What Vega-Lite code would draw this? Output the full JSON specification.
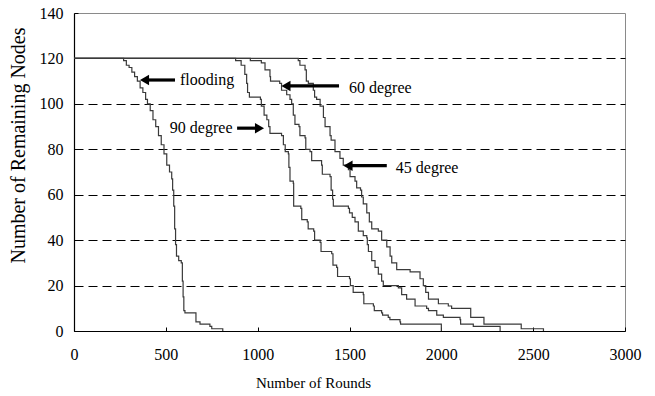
{
  "$schema": "https://vega.github.io/schema/vega-lite/v6.json",
  "width": 551,
  "height": 318,
  "autosize": {"type": "none"},
  "padding": {"left": 74, "top": 13, "right": 30, "bottom": 65},
  "background": "white",
  "config": {
    "view": {"stroke": "#8a8a8a", "strokeWidth": 1},
    "font": "Liberation Serif"
  },
  "layer": [
    {
      "data": {"values": [
        {"s":"flooding","x":0,"y":120},{"s":"flooding","x":255,"y":120},{"s":"flooding","x":270,"y":119},{"s":"flooding","x":285,"y":117},{"s":"flooding","x":300,"y":116},{"s":"flooding","x":315,"y":114},{"s":"flooding","x":330,"y":112},{"s":"flooding","x":345,"y":110},{"s":"flooding","x":360,"y":107},{"s":"flooding","x":375,"y":105},{"s":"flooding","x":390,"y":102},{"s":"flooding","x":400,"y":100},{"s":"flooding","x":415,"y":97},{"s":"flooding","x":430,"y":93},{"s":"flooding","x":445,"y":90},{"s":"flooding","x":460,"y":86},{"s":"flooding","x":475,"y":82},{"s":"flooding","x":490,"y":78},{"s":"flooding","x":505,"y":73},{"s":"flooding","x":520,"y":70},{"s":"flooding","x":532,"y":67},{"s":"flooding","x":537,"y":62},{"s":"flooding","x":543,"y":55},{"s":"flooding","x":548,"y":45},{"s":"flooding","x":553,"y":38},{"s":"flooding","x":558,"y":33},{"s":"flooding","x":570,"y":31},{"s":"flooding","x":584,"y":30},{"s":"flooding","x":590,"y":22},{"s":"flooding","x":594,"y":15},{"s":"flooding","x":598,"y":9},{"s":"flooding","x":604,"y":8},{"s":"flooding","x":660,"y":8},{"s":"flooding","x":664,"y":4},{"s":"flooding","x":686,"y":3},{"s":"flooding","x":740,"y":2},{"s":"flooding","x":750,"y":1},{"s":"flooding","x":810,"y":0},
        {"s":"90","x":0,"y":120},{"s":"90","x":850,"y":120},{"s":"90","x":880,"y":119},{"s":"90","x":910,"y":117},{"s":"90","x":930,"y":113},{"s":"90","x":940,"y":109},{"s":"90","x":945,"y":105},{"s":"90","x":955,"y":103},{"s":"90","x":1015,"y":102},{"s":"90","x":1020,"y":99},{"s":"90","x":1035,"y":95},{"s":"90","x":1050,"y":93},{"s":"90","x":1060,"y":90},{"s":"90","x":1067,"y":87},{"s":"90","x":1130,"y":86},{"s":"90","x":1140,"y":82},{"s":"90","x":1150,"y":79},{"s":"90","x":1167,"y":78},{"s":"90","x":1170,"y":72},{"s":"90","x":1176,"y":66},{"s":"90","x":1194,"y":65},{"s":"90","x":1196,"y":55},{"s":"90","x":1235,"y":54},{"s":"90","x":1240,"y":49},{"s":"90","x":1270,"y":48},{"s":"90","x":1275,"y":45},{"s":"90","x":1305,"y":44},{"s":"90","x":1310,"y":40},{"s":"90","x":1340,"y":39},{"s":"90","x":1345,"y":35},{"s":"90","x":1403,"y":34},{"s":"90","x":1410,"y":29},{"s":"90","x":1430,"y":28},{"s":"90","x":1435,"y":24},{"s":"90","x":1500,"y":23},{"s":"90","x":1505,"y":20},{"s":"90","x":1520,"y":17},{"s":"90","x":1575,"y":16},{"s":"90","x":1578,"y":12},{"s":"90","x":1630,"y":11},{"s":"90","x":1635,"y":9},{"s":"90","x":1675,"y":8},{"s":"90","x":1680,"y":7},{"s":"90","x":1711,"y":6},{"s":"90","x":1720,"y":5},{"s":"90","x":1775,"y":4},{"s":"90","x":1778,"y":3},{"s":"90","x":2000,"y":0},
        {"s":"60","x":0,"y":120},{"s":"60","x":940,"y":120},{"s":"60","x":960,"y":119},{"s":"60","x":1020,"y":118},{"s":"60","x":1040,"y":115},{"s":"60","x":1067,"y":112},{"s":"60","x":1070,"y":110},{"s":"60","x":1120,"y":109},{"s":"60","x":1130,"y":106},{"s":"60","x":1158,"y":104},{"s":"60","x":1176,"y":102},{"s":"60","x":1185,"y":100},{"s":"60","x":1194,"y":95},{"s":"60","x":1203,"y":91},{"s":"60","x":1225,"y":90},{"s":"60","x":1230,"y":86},{"s":"60","x":1258,"y":85},{"s":"60","x":1262,"y":80},{"s":"60","x":1285,"y":79},{"s":"60","x":1294,"y":75},{"s":"60","x":1348,"y":73},{"s":"60","x":1352,"y":69},{"s":"60","x":1394,"y":68},{"s":"60","x":1400,"y":62},{"s":"60","x":1408,"y":58},{"s":"60","x":1412,"y":55},{"s":"60","x":1494,"y":54},{"s":"60","x":1500,"y":52},{"s":"60","x":1515,"y":50},{"s":"60","x":1530,"y":48},{"s":"60","x":1548,"y":44},{"s":"60","x":1575,"y":42},{"s":"60","x":1594,"y":41},{"s":"60","x":1597,"y":38},{"s":"60","x":1603,"y":35},{"s":"60","x":1621,"y":31},{"s":"60","x":1639,"y":28},{"s":"60","x":1657,"y":25},{"s":"60","x":1675,"y":22},{"s":"60","x":1684,"y":20},{"s":"60","x":1766,"y":19},{"s":"60","x":1784,"y":16},{"s":"60","x":1811,"y":14},{"s":"60","x":1857,"y":11},{"s":"60","x":1920,"y":10},{"s":"60","x":1930,"y":9},{"s":"60","x":1975,"y":7},{"s":"60","x":2011,"y":6},{"s":"60","x":2102,"y":5},{"s":"60","x":2105,"y":3},{"s":"60","x":2174,"y":2},{"s":"60","x":2320,"y":0},
        {"s":"45","x":0,"y":120},{"s":"45","x":1110,"y":120},{"s":"45","x":1221,"y":119},{"s":"45","x":1230,"y":117},{"s":"45","x":1258,"y":115},{"s":"45","x":1265,"y":110},{"s":"45","x":1276,"y":109},{"s":"45","x":1303,"y":106},{"s":"45","x":1310,"y":103},{"s":"45","x":1321,"y":102},{"s":"45","x":1340,"y":99},{"s":"45","x":1358,"y":94},{"s":"45","x":1367,"y":90},{"s":"45","x":1394,"y":86},{"s":"45","x":1400,"y":84},{"s":"45","x":1421,"y":79},{"s":"45","x":1448,"y":76},{"s":"45","x":1466,"y":73},{"s":"45","x":1494,"y":71},{"s":"45","x":1503,"y":68},{"s":"45","x":1530,"y":66},{"s":"45","x":1539,"y":63},{"s":"45","x":1560,"y":62},{"s":"45","x":1566,"y":59},{"s":"45","x":1575,"y":56},{"s":"45","x":1594,"y":52},{"s":"45","x":1608,"y":48},{"s":"45","x":1621,"y":45},{"s":"45","x":1657,"y":44},{"s":"45","x":1675,"y":40},{"s":"45","x":1703,"y":37},{"s":"45","x":1721,"y":33},{"s":"45","x":1730,"y":30},{"s":"45","x":1757,"y":27},{"s":"45","x":1830,"y":26},{"s":"45","x":1884,"y":23},{"s":"45","x":1902,"y":20},{"s":"45","x":1915,"y":17},{"s":"45","x":1930,"y":14},{"s":"45","x":1984,"y":12},{"s":"45","x":2038,"y":11},{"s":"45","x":2056,"y":10},{"s":"45","x":2160,"y":6},{"s":"45","x":2232,"y":3},{"s":"45","x":2435,"y":1},{"s":"45","x":2556,"y":0}
      ]},
      "mark": {"type": "line", "interpolate": "step-after", "color": "#3a3a3a", "strokeWidth": 1.2, "clip": true},
      "encoding": {
        "x": {
          "field": "x", "type": "quantitative",
          "scale": {"domain": [0, 3000], "nice": false, "zero": true},
          "axis": {
            "values": [0, 500, 1000, 1500, 2000, 2500, 3000],
            "format": "d",
            "title": "Number of Rounds",
            "titleFont": "Liberation Serif", "titleFontSize": 15, "titleFontWeight": "normal", "titleColor": "black",
            "titleX": 239, "titleY": 51, "titleBaseline": "middle", "titleAnchor": "middle",
            "labelFont": "Liberation Serif", "labelFontSize": 16, "labelColor": "black", "labelPadding": 19,
            "labelFlush": false,
            "domainColor": "black", "domainWidth": 1.2,
            "tickColor": "black", "tickSize": -4, "grid": false
          }
        },
        "y": {
          "field": "y", "type": "quantitative",
          "scale": {"domain": [0, 140], "nice": false},
          "axis": {
            "values": [0, 20, 40, 60, 80, 100, 120, 140],
            "format": "d",
            "title": "Number of Remaining Nodes",
            "titleFont": "Liberation Serif", "titleFontSize": 20, "titleFontWeight": "normal", "titleColor": "black",
            "titleX": -56, "titleY": 132, "titleBaseline": "middle", "titleAnchor": "middle", "titleAngle": -90,
            "labelFont": "Liberation Serif", "labelFontSize": 16, "labelColor": "black", "labelPadding": 15,
            "domainColor": "black", "domainWidth": 1.2,
            "tickColor": "black", "tickSize": -4,
            "grid": true, "gridColor": "black", "gridDash": [9, 5], "gridWidth": 1,
            "gridOpacity": {"condition": {"test": "datum.value >= 140 || datum.value <= 0", "value": 0}, "value": 1}
          }
        },
        "detail": {"field": "s", "type": "nominal"}
      }
    },
    {
      "data": {"values": [
        {"label": "flooding", "x1": 403, "x2": 550, "y": 110.5},
        {"label": "90 degree", "x1": 888, "x2": 991, "y": 89.3},
        {"label": "60 degree", "x1": 1176, "x2": 1443, "y": 107.9},
        {"label": "45 degree", "x1": 1508, "x2": 1703, "y": 72.8}
      ]},
      "mark": {"type": "rule", "color": "black", "strokeWidth": 3.2},
      "encoding": {
        "x": {"field": "x1", "type": "quantitative"},
        "x2": {"field": "x2"},
        "y": {"field": "y", "type": "quantitative"}
      }
    },
    {
      "data": {"values": [
        {"label": "flooding", "x": 384, "y": 110.5, "dir": "left"},
        {"label": "90 degree", "x": 1010, "y": 89.3, "dir": "right"},
        {"label": "60 degree", "x": 1154, "y": 107.9, "dir": "left"},
        {"label": "45 degree", "x": 1492, "y": 72.8, "dir": "left"}
      ]},
      "mark": {"type": "point", "filled": true, "color": "black", "opacity": 1, "size": 110},
      "encoding": {
        "x": {"field": "x", "type": "quantitative"},
        "y": {"field": "y", "type": "quantitative"},
        "shape": {"field": "dir", "type": "nominal", "scale": {"domain": ["left", "right"], "range": ["triangle-left", "triangle-right"]}, "legend": null}
      }
    },
    {
      "data": {"values": [
        {"label": "flooding", "x": 577, "y": 110.5},
        {"label": "90 degree", "x": 522, "y": 89.3},
        {"label": "60 degree", "x": 1497, "y": 107.1},
        {"label": "45 degree", "x": 1752, "y": 71.6}
      ]},
      "mark": {"type": "text", "align": "left", "baseline": "middle", "font": "Liberation Serif", "fontSize": 16, "color": "black"},
      "encoding": {
        "x": {"field": "x", "type": "quantitative"},
        "y": {"field": "y", "type": "quantitative"},
        "text": {"field": "label", "type": "nominal"}
      }
    }
  ]
}
